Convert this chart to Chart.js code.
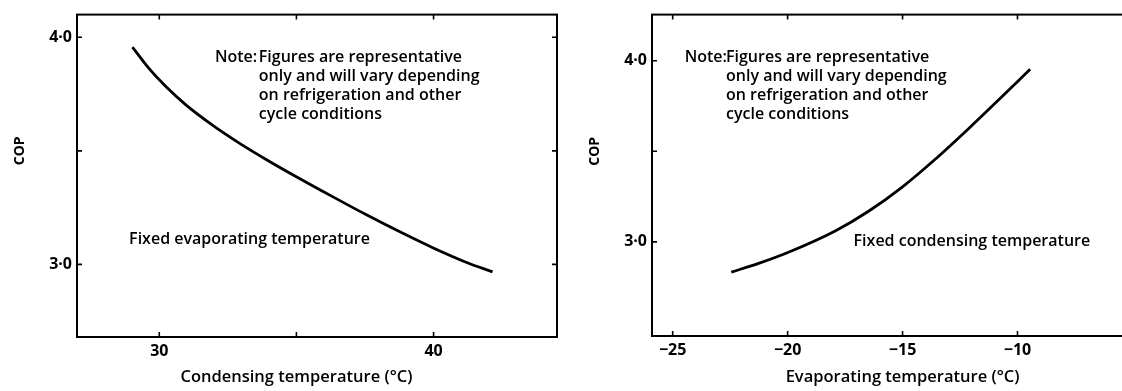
<!DOCTYPE html>
<html><head><meta charset="utf-8">
<script src="https://cdn.jsdelivr.net/npm/chart.js@4.4.1/dist/chart.umd.min.js"></script>
<style>
html,body{margin:0;padding:0;width:1122px;height:391px;overflow:hidden;background:#fff;}
#l{position:absolute;left:0;top:0;width:570px;height:391px;}
#r{position:absolute;left:570px;top:0;width:600px;height:391px;}
</style></head><body>
<div id="l"><canvas id="cl"></canvas></div>
<div id="r"><canvas id="cr"></canvas></div>
<script>
// ---- data ----
const CONDENSING_TEMP    = [29.02, 29.63, 30.24, 30.98, 31.95, 32.93, 33.91, 34.98, 36.35, 37.57, 38.79, 39.99, 41.23, 42.15];
const COP_VS_CONDENSING  = [3.957, 3.862, 3.783, 3.701, 3.612, 3.533, 3.461, 3.387, 3.296, 3.217, 3.142, 3.072, 3.007, 2.967];
const EVAPORATING_TEMP   = [-22.45, -21.26, -19.99, -17.93, -16.48, -15.0, -13.58, -12.13, -10.68, -9.45];
const COP_VS_EVAPORATING = [2.833, 2.881, 2.941, 3.060, 3.169, 3.304, 3.456, 3.625, 3.801, 3.953];

const COND_TICKS        = [30, 35, 40];
const COND_TICK_LABELS  = ['30', '', '40'];
const EVAP_TICKS        = [-25, -20, -15, -10];
const EVAP_TICK_LABELS  = ['\u221225', '\u221220', '\u221215', '\u221210'];
const COP_TICKS         = [3.0, 3.5, 4.0];
const COP_TICK_LABELS   = ['3\u00b70', '', '4\u00b70'];

const Y_TITLE = 'COP';
const X_TITLE_LEFT  = 'Condensing temperature (\u00b0C)';
const X_TITLE_RIGHT = 'Evaporating temperature (\u00b0C)';
const NOTE_LABEL = 'Note:';
const NOTE_LINES = ['Figures are representative', 'only and will vary depending', 'on refrigeration and other', 'cycle conditions'];
const FIXED_LEFT  = 'Fixed evaporating temperature';
const FIXED_RIGHT = 'Fixed condensing temperature';

const FONT = '"Open Sans", "DejaVu Sans", sans-serif';
Chart.defaults.font.family = FONT;
Chart.defaults.color = '#000';

function pts(xs, ys) { return xs.map((x, i) => ({x: x, y: ys[i]})); }

const framePlugin = {
  id: 'frame',
  afterDraw(chart, args, o) {
    const ctx = chart.ctx, a = chart.chartArea, x = chart.scales.x, y = chart.scales.y;
    ctx.save();
    ctx.strokeStyle = '#000';
    ctx.lineWidth = 2;
    ctx.strokeRect(a.left, a.top, a.right - a.left, a.bottom - a.top);
    ctx.lineWidth = 1.6;
    ctx.beginPath();
    x.ticks.forEach(t => {
      const p = x.getPixelForValue(t.value);
      ctx.moveTo(p, a.bottom); ctx.lineTo(p, a.bottom - 5);
      ctx.moveTo(p, a.top); ctx.lineTo(p, a.top + 5);
    });
    y.ticks.forEach(t => {
      const p = y.getPixelForValue(t.value);
      ctx.moveTo(a.left, p); ctx.lineTo(a.left + 5, p);
      ctx.moveTo(a.right, p); ctx.lineTo(a.right - 5, p);
    });
    ctx.stroke();

    ctx.fillStyle = '#000';
    // axis titles
    ctx.font = '600 16.5px ' + FONT;
    ctx.textAlign = 'center'; ctx.textBaseline = 'middle';
    ctx.fillText(o.xTitle, x.getPixelForValue(o.xTitleAt), o.xTitleY);
    ctx.save();
    ctx.translate(a.left - 57, y.getPixelForValue(o.yTitleAt));
    ctx.rotate(-Math.PI / 2);
    ctx.font = '700 14px ' + FONT;
    ctx.fillText(Y_TITLE, 0, 0);
    ctx.restore();

    // note
    ctx.font = '600 16px ' + FONT;
    ctx.textAlign = 'left';
    const ny = y.getPixelForValue(o.noteY);
    ctx.fillText(NOTE_LABEL, x.getPixelForValue(o.noteX), ny);
    const tx = x.getPixelForValue(o.noteTextX);
    NOTE_LINES.forEach((s, i) => ctx.fillText(s, tx, ny + i * 19));
    ctx.fillText(o.fixed, x.getPixelForValue(o.fixedX), y.getPixelForValue(o.fixedY));
    ctx.restore();
  }
};

function makeChart(id, cfg) {
  return new Chart(document.getElementById(id), {
    type: 'line',
    data: { datasets: [{
      data: pts(cfg.xs, cfg.ys),
      borderColor: '#000', borderWidth: 2.8, pointRadius: 0,
      fill: false, cubicInterpolationMode: 'monotone'
    }]},
    options: {
      responsive: true, maintainAspectRatio: false, animation: false,
      layout: { padding: { top: 10, right: cfg.padRight, left: 0, bottom: 0 } },
      plugins: { legend: { display: false }, tooltip: { enabled: false }, frame: cfg.frame },
      scales: {
        x: {
          type: 'linear', min: cfg.xMin, max: cfg.xMax,
          afterBuildTicks: s => { s.ticks = cfg.xTicks.map(v => ({ value: v })); },
          afterFit: s => { s.height = cfg.xAxisH; },
          ticks: { autoSkip: false, maxRotation: 0, padding: 5,
                   font: { size: 16, weight: '700' }, color: '#000',
                   callback: v => cfg.xLabels[cfg.xTicks.indexOf(v)] },
          grid: { drawOnChartArea: false, drawTicks: false },
          border: { display: false }
        },
        y: {
          type: 'linear', min: cfg.yMin, max: cfg.yMax,
          afterBuildTicks: s => { s.ticks = COP_TICKS.map(v => ({ value: v })); },
          afterFit: s => { s.width = cfg.yAxisW; },
          ticks: { padding: 5, font: { size: 16, weight: '700' }, color: '#000',
                   callback: v => COP_TICK_LABELS[COP_TICKS.indexOf(v)] },
          grid: { drawOnChartArea: false, drawTicks: false },
          border: { display: false }
        }
      }
    },
    plugins: [framePlugin]
  });
}

makeChart('cl', {
  xs: CONDENSING_TEMP, ys: COP_VS_CONDENSING,
  xMin: 27, xMax: 44.5, yMin: 2.68, yMax: 4.1,
  xTicks: COND_TICKS, xLabels: COND_TICK_LABELS,
  yAxisW: 77, xAxisH: 54, padRight: 13,
  frame: { xTitle: X_TITLE_LEFT, xTitleAt: 35, xTitleY: 377, yTitleAt: 3.5,
           noteX: 32.03, noteTextX: 33.63, noteY: 3.913,
           fixed: FIXED_LEFT, fixedX: 28.9, fixedY: 3.11 }
});

makeChart('cr', {
  xs: EVAPORATING_TEMP, ys: COP_VS_EVAPORATING,
  xMin: -25.9, xMax: -3.8, yMin: 2.48, yMax: 4.255,
  xTicks: EVAP_TICKS, xLabels: EVAP_TICK_LABELS,
  yAxisW: 82, xAxisH: 55, padRight: 10,
  frame: { xTitle: X_TITLE_RIGHT, xTitleAt: -15, xTitleY: 377, yTitleAt: 3.5,
           noteX: -24.48, noteTextX: -22.68, noteY: 4.019,
           fixed: FIXED_RIGHT, fixedX: -17.13, fixedY: 3.003 }
});
</script>
</body></html>
